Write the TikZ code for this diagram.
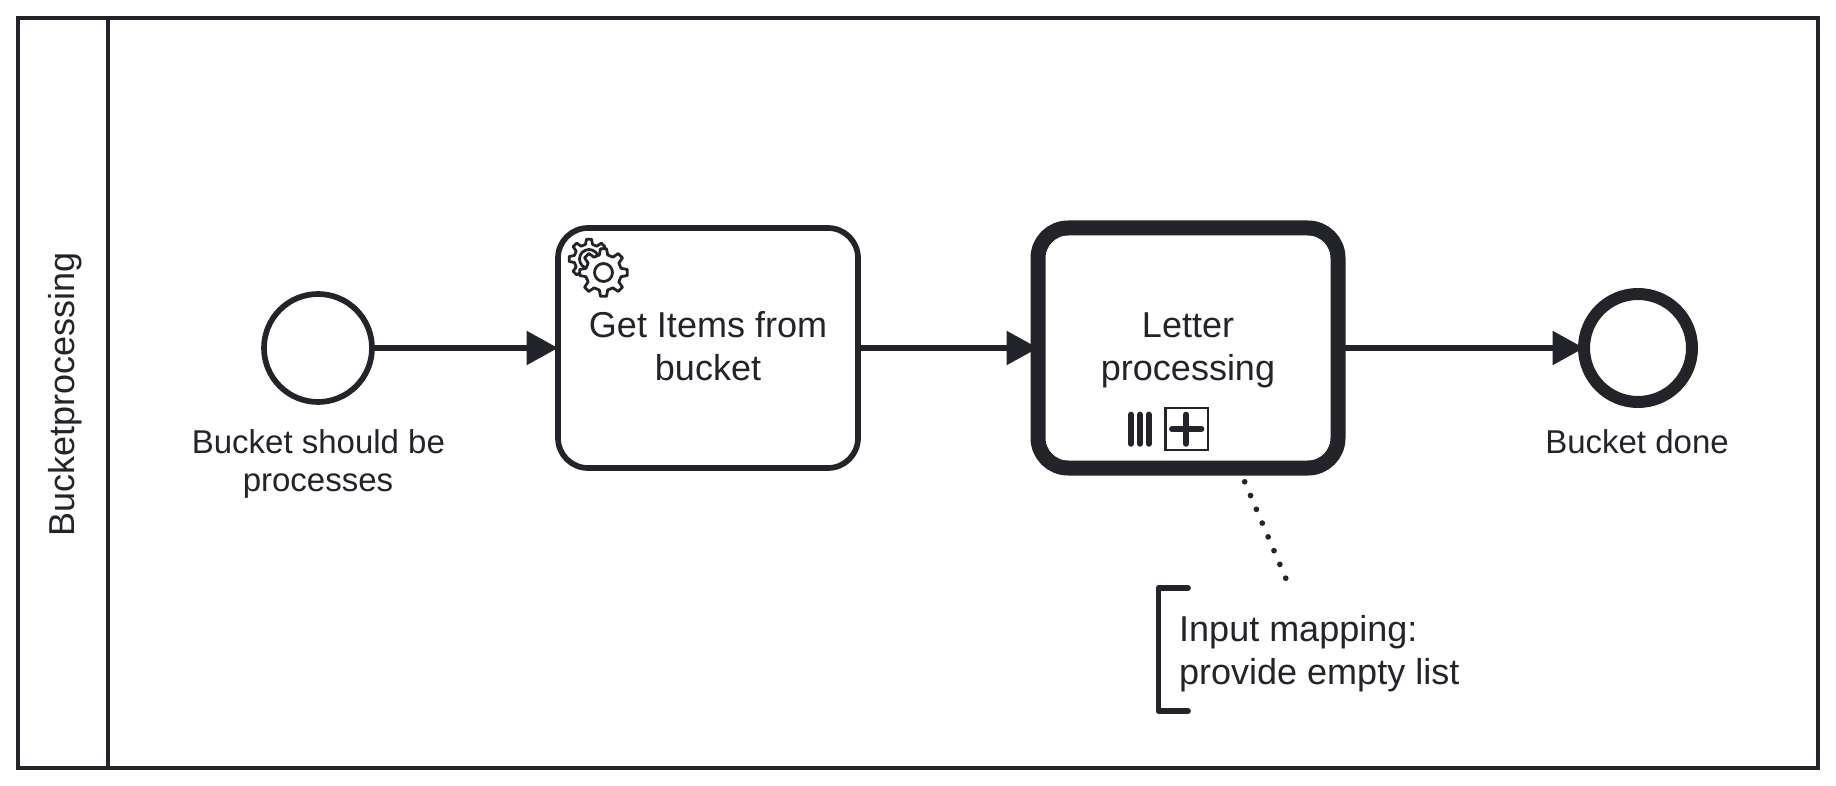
\documentclass[tikz,border=0pt]{standalone}
\usepackage{fontspec}
\setmainfont{Liberation Sans}
\usetikzlibrary{arrows.meta}
\definecolor{ink}{HTML}{22242A}
\newcommand{\topstrut}{\rule{0pt}{30pt}}
\newcommand{\botstrut}{\rule[-8.7pt]{0pt}{8.7pt}}
\newcommand{\gearshape}[5]{%
  \pgfmathsetmacro{\gstep}{360/#5}%
  \draw[gearline] ([shift={(#1,#2)}]-0.30*\gstep:#4pt)
    \foreach \k [evaluate=\k as \ga using (\k-1)*\gstep] in {1,...,#5}{
      -- ([shift={(#1,#2)}]\ga-0.30*\gstep:#4pt)
      -- ([shift={(#1,#2)}]\ga-0.16*\gstep:#3pt)
      -- ([shift={(#1,#2)}]\ga+0.16*\gstep:#3pt)
      -- ([shift={(#1,#2)}]\ga+0.30*\gstep:#4pt)
    } -- cycle;}
\tikzset{
  x=1pt,y=-1pt,
  every node/.style={text=ink,inner sep=0pt,outer sep=0pt},
  poolline/.style={draw=ink,line width=4.6pt,miter limit=10},
  taskfont/.style={font=\fontsize{36}{43.2}\selectfont},
  labelfont/.style={font=\fontsize{33}{38.8}\selectfont},
  taskbox/.style={draw=ink,fill=white,rounded corners=30pt,minimum width=300pt,minimum height=240pt,align=center,taskfont},
  thintask/.style={taskbox,line width=5.7pt},
  thicktask/.style={taskbox,line width=15pt},
  eventstart/.style={circle,draw=ink,fill=white,line width=5.7pt,minimum size=108pt},
  eventend/.style={circle,draw=ink,fill=white,line width=12pt,minimum size=108pt},
  flow/.style={draw=ink,line width=5.7pt,-{Triangle[length=31.5pt,width=33pt]}},
  assoc/.style={draw=ink,line width=5.7pt,line cap=round,dash pattern=on 0pt off 14.97pt},
  bracket/.style={draw=ink,line width=5.7pt,line cap=round,line join=round},
  markerbar/.style={draw=ink,line width=5.9pt,line cap=round},
  markerbox/.style={draw=ink,line width=2.4pt},
  gearline/.style={draw=ink,fill=white,line width=2.8pt,line join=round},
}
\begin{document}
\begin{tikzpicture}
\useasboundingbox (0,0) rectangle (1836,786);
\fill[white] (0,0) rectangle (1836,786);
% pool
\draw[poolline] (18,18) rectangle (1818,768);
\draw[poolline] (108,18) -- (108,768);
\node[rotate=90,anchor=base,taskfont] (lanelabel) at (74.3,394.5) {Bucketprocessing};
% flow elements
\node[eventstart] (start) at (318,348) {};
\node[thintask] (task1) at (708,348) {\topstrut Get Items from\\bucket\botstrut};
\node[thicktask] (task2) at (1188,348) {\topstrut Letter\\processing\botstrut};
\node[eventend] (endev) at (1638,348) {};
% event labels
\node[labelfont,anchor=base] (startlabel) at (318.4,453) {Bucket should be};
\node[labelfont,anchor=base] (startlabelb) at (318,491.6) {processes};
\node[labelfont,anchor=base] (endlabel) at (1637,453) {Bucket done};
% sequence flows
\draw[flow] (start) -- (task1);
\draw[flow] (task1) -- (task2);
\draw[flow] (task2) -- (endev);
% service task gears
\gearshape{589}{259}{20}{15}{8}
\draw[draw=ink,line width=2.8pt] (589,259) circle (9.5pt);
\gearshape{603.5}{272.5}{24}{18}{8}
\draw[draw=ink,line width=2.8pt] (603.5,272.5) circle (9pt);
% subprocess markers
\draw[markerbar] (1131,414.6) -- (1131,443.8);
\draw[markerbar] (1140,414.6) -- (1140,443.8);
\draw[markerbar] (1148.7,414.6) -- (1148.7,443.8);
\draw[markerbox] (1165.3,407.8) rectangle (1208.2,450);
\draw[markerbar] (1172,429) -- (1201.4,429);
\draw[markerbar] (1186,414.6) -- (1186,443.8);
% annotation
\coordinate (assocstart) at (1238.8,468);
\coordinate (assocend) at (1285.9,578.6);
\draw[assoc] (assocstart) -- (assocend);
\draw[bracket] (1188,588) -- (1158.5,588) -- (1158.5,711) -- (1188,711);
\node[taskfont,align=left,anchor=west] (annot) at (1179.2,652.5) {\topstrut Input mapping:\\provide empty list\botstrut};
\end{tikzpicture}
\end{document}
